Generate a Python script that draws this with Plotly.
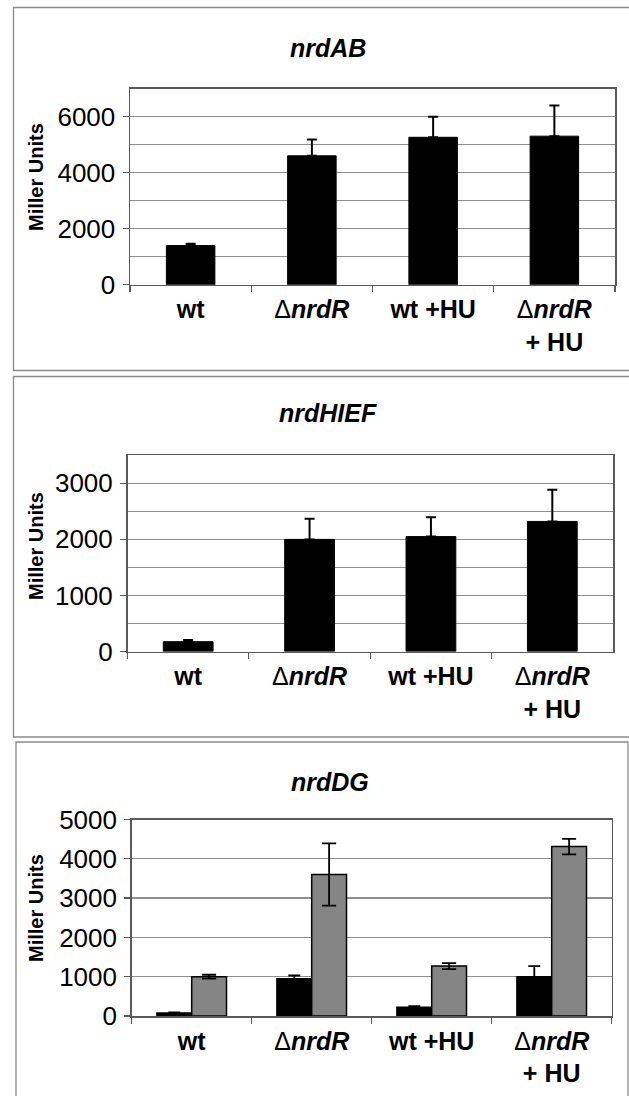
import plotly.graph_objects as go

W, H = 629, 1096

categories = ["<b>wt</b>", "Δ<b><i>nrdR</i></b>", "<b>wt +HU</b>", "Δ<b><i>nrdR</i></b><br><b>+ HU</b>"]

nrdAB_values = [1400, 4600, 5260, 5300]
nrdAB_errors = [60, 580, 730, 1090]

nrdHIEF_values = [175, 2000, 2050, 2320]
nrdHIEF_errors = [30, 370, 345, 565]

nrdDG_black_values = [75, 950, 220, 1000]
nrdDG_black_errors = [15, 80, 30, 270]
nrdDG_gray_values = [1000, 3600, 1270, 4310]
nrdDG_gray_errors = [50, 790, 75, 195]

titles = ["nrdAB", "nrdHIEF", "nrdDG"]
y_title = "Miller Units"


def px(x):
    return x / W


def py(y):
    return 1 - y / H


FONT = "Liberation Sans, Arial, sans-serif"

fig = go.Figure()

# panel 1
fig.add_trace(go.Bar(x=categories, y=nrdAB_values, width=0.40,
                     marker=dict(color="black", line=dict(color="black", width=1)),
                     error_y=dict(type="data", symmetric=False, array=nrdAB_errors,
                                  arrayminus=[0] * 4, color="black", thickness=2, width=5),
                     xaxis="x", yaxis="y", showlegend=False))
# panel 2
fig.add_trace(go.Bar(x=categories, y=nrdHIEF_values, width=0.41,
                     marker=dict(color="black", line=dict(color="black", width=1)),
                     error_y=dict(type="data", symmetric=False, array=nrdHIEF_errors,
                                  arrayminus=[0] * 4, color="black", thickness=2, width=5),
                     xaxis="x2", yaxis="y2", showlegend=False))
# panel 3
fig.add_trace(go.Bar(x=categories, y=nrdDG_black_values, width=0.29, offset=-0.29,
                     marker=dict(color="black", line=dict(color="black", width=1.5)),
                     error_y=dict(type="data", array=nrdDG_black_errors,
                                  color="black", thickness=1.8, width=6),
                     xaxis="x3", yaxis="y3", showlegend=False))
fig.add_trace(go.Bar(x=categories, y=nrdDG_gray_values, width=0.29, offset=0,
                     marker=dict(color="#858585", line=dict(color="black", width=1.5)),
                     error_y=dict(type="data", array=nrdDG_gray_errors,
                                  color="black", thickness=1.8, width=7),
                     xaxis="x3", yaxis="y3", showlegend=False))

panels = [
    # (x0, x1, ytop, ybottom, range, dtick, minor)
    (130, 615, 88.5, 284.8, 7000, 2000, 1000),
    (127.5, 613, 455.3, 651.5, 3500, 1000, 500),
    (131.7, 611.7, 819.5, 1016, 5000, 1000, None),
]

axis_line = "#5a5a5a"
grid_col = "#8f8f8f"

for i, (x0, x1, yt, yb, rng, dt, mn) in enumerate(panels):
    sfx = "" if i == 0 else str(i + 1)
    xa = dict(domain=[px(x0), px(x1)], anchor="y" + sfx, type="category",
              categoryorder="array", categoryarray=categories,
              range=[-0.5, 3.5], showline=True, linecolor=axis_line, linewidth=1.5,
              mirror=True, ticks="outside", tickson="boundaries", ticklen=6,
              tickcolor=axis_line, tickwidth=1.2, showgrid=False, zeroline=False,
              tickfont=dict(family=FONT, size=25, color="black"),
              ticklabelstandoff=2, automargin=False, fixedrange=True)
    ya = dict(domain=[py(yb), py(yt)], anchor="x" + sfx, range=[0, rng],
              dtick=dt, tick0=0, tickformat="d", showline=True, linecolor=axis_line,
              linewidth=1.5, mirror=True, ticks="outside", ticklen=6,
              tickcolor=axis_line, tickwidth=1.2, showgrid=True, gridcolor=grid_col,
              gridwidth=1.2, zeroline=False,
              tickfont=dict(family=FONT, size=26, color="black"),
              ticklabelstandoff=2, automargin=False, fixedrange=True)
    if mn:
        ya["minor"] = dict(dtick=mn, tick0=0, showgrid=True, gridcolor=grid_col,
                           gridwidth=1.2, ticks="")
    fig.layout["xaxis" + sfx] = xa
    fig.layout["yaxis" + sfx] = ya

# panel frames
frames = [
    (13.5, 7.5, 660, 370.5),
    (13.5, 376.5, 660, 737),
    (16, 742, 628, 1110),
]
for (a, b, c, d) in frames:
    fig.add_shape(type="rect", xref="paper", yref="paper",
                  x0=px(a), x1=px(c), y0=py(d), y1=py(b),
                  line=dict(color="#8a8a8a", width=1.3), fillcolor="rgba(0,0,0,0)")

# titles and y-axis titles
title_pos = [(328, 48), (328, 413), (330, 782)]
ytitle_pos = [177, 546, 908]
for t, (tx, ty), yy in zip(titles, title_pos, ytitle_pos):
    fig.add_annotation(text="<b><i>" + t + "</i></b>", xref="paper", yref="paper",
                       x=px(tx), y=py(ty), xanchor="center", yanchor="middle",
                       showarrow=False, font=dict(family=FONT, size=25, color="black"))
    fig.add_annotation(text="<b>" + y_title + "</b>", xref="paper", yref="paper",
                       x=px(36), y=py(yy), xanchor="center", yanchor="middle",
                       textangle=-90, showarrow=False,
                       font=dict(family=FONT, size=20, color="black"))

fig.update_layout(width=W, height=H, margin=dict(l=0, r=0, t=0, b=0),
                  paper_bgcolor="white", plot_bgcolor="white", template="none",
                  barmode="group", showlegend=False, hovermode=False)

fig.write_html("out.html",
               config={"displayModeBar": False, "staticPlot": True},
               post_script="document.body.style.margin='0';"
                           "document.body.style.overflow='hidden';")
